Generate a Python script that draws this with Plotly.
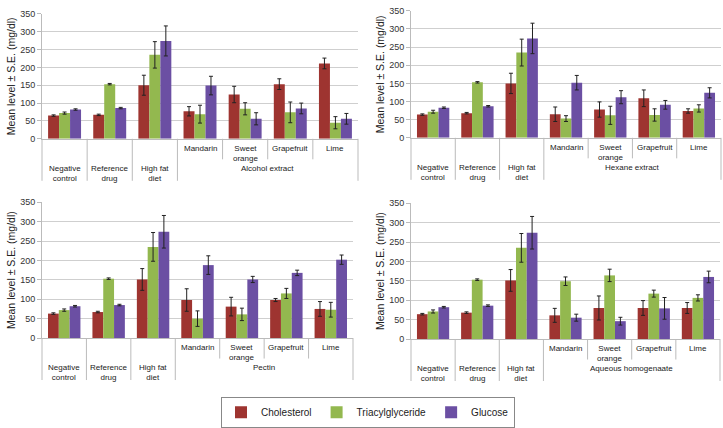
import plotly.graph_objects as go

# ---------------- data ----------------
categories = ["Negative control", "Reference drug", "High fat diet",
              "Mandarin", "Sweet orange", "Grapefruit", "Lime"]
control_labels = ["Negative<br>control", "Reference<br>drug", "High fat<br>diet"]
fruit_labels = ["Mandarin", "Sweet<br>orange", "Grapefruit", "Lime"]
group_labels = ["Alcohol extract", "Hexane extract", "Pectin", "Aqueous homogenaate"]
series_names = ["Cholesterol", "Triacylglyceride", "Glucose"]
tick_values = [0, 50, 100, 150, 200, 250, 300, 350]

# Alcohol extract
alc_chol = [65, 67, 150, 77, 124, 153, 211]
alc_chol_se = [2, 2, 28, 13, 23, 15, 15]
alc_tg = [72, 153, 235, 69, 84, 74, 45]
alc_tg_se = [3, 2, 37, 25, 17, 29, 17]
alc_glu = [82, 86, 274, 149, 56, 85, 56]
alc_glu_se = [2, 2, 42, 26, 17, 15, 15]

# Hexane extract
hex_chol = [64, 68, 150, 65, 78, 109, 74]
hex_chol_se = [2, 2, 28, 20, 21, 23, 6]
hex_tg = [72, 153, 235, 53, 62, 63, 81]
hex_tg_se = [4, 2, 37, 8, 25, 17, 10]
hex_glu = [83, 87, 274, 152, 112, 91, 124]
hex_glu_se = [2, 2, 42, 20, 18, 12, 14]

# Pectin
pec_chol = [63, 67, 151, 98, 81, 98, 75]
pec_chol_se = [2, 2, 28, 29, 24, 4, 19]
pec_tg = [72, 153, 235, 50, 61, 115, 73]
pec_tg_se = [3, 2, 37, 20, 16, 13, 19]
pec_glu = [82, 85, 274, 188, 151, 168, 202]
pec_glu_se = [2, 2, 42, 24, 8, 7, 12]

# Aqueous homogenaate
aq_chol = [64, 68, 151, 61, 80, 80, 80]
aq_chol_se = [2, 2, 28, 18, 31, 19, 14]
aq_tg = [71, 153, 235, 149, 164, 117, 106]
aq_tg_se = [4, 2, 37, 11, 16, 9, 8]
aq_glu = [82, 86, 274, 55, 46, 79, 160]
aq_glu_se = [2, 2, 42, 9, 10, 28, 15]

panels_data = [
    [(alc_chol, alc_chol_se), (alc_tg, alc_tg_se), (alc_glu, alc_glu_se)],
    [(hex_chol, hex_chol_se), (hex_tg, hex_tg_se), (hex_glu, hex_glu_se)],
    [(pec_chol, pec_chol_se), (pec_tg, pec_tg_se), (pec_glu, pec_glu_se)],
    [(aq_chol, aq_chol_se), (aq_tg, aq_tg_se), (aq_glu, aq_glu_se)],
]

# ---------------- style / layout ----------------
W, H = 723, 428
colors = ["#9E3430", "#93B84F", "#6B4FA3"]
line_col = "#BBBBBB"
font_family = "Liberation Sans, Arial, sans-serif"

# plot areas in pixels: left, top, right, bottom
rects = [(42, 9, 358, 137), (411, 6, 721, 136),
         (42, 202, 353, 341), (411, 203, 720, 342)]


def px(x):
    return x / W


def py(y):
    return 1 - y / H


fig = go.Figure()
shapes = []
annotations = []

for i, (rect, pdata) in enumerate(zip(rects, panels_data)):
    l, t, r, b = rect
    ax = "" if i == 0 else str(i + 1)
    for s, (vals, se) in enumerate(pdata):
        fig.add_trace(go.Bar(
            x=categories, y=vals, name=series_names[s],
            marker=dict(color=colors[s], line=dict(width=0)),
            error_y=dict(type="data", array=se, color="#222222",
                         thickness=1, width=2),
            xaxis="x" + ax, yaxis="y" + ax,
            legendgroup=series_names[s], showlegend=(i == 0),
        ))
    fig.layout["xaxis" + ax] = dict(
        domain=[px(l), px(r)], anchor="y" + ax, type="category",
        range=[-0.5, 6.5], showticklabels=False, showgrid=False,
        showline=True, linecolor=line_col, ticks="", zeroline=False,
        fixedrange=True,
    )
    fig.layout["yaxis" + ax] = dict(
        domain=[py(b), py(t)], anchor="x" + ax, range=[0, 350],
        tickvals=tick_values, showgrid=True, gridcolor="#CFCFCF",
        showline=True, linecolor=line_col, ticks="outside", ticklen=4,
        tickcolor=line_col, tickfont=dict(size=9, color="#333333"),
        zeroline=False,
        title=dict(text="Mean level ± S.E. (mg/dl)",
                   font=dict(size=10.5, color="#222222"), standoff=2),
    )

    # multi-level category axis
    cw = (r - l) / 7.0
    row1 = b + 21
    row2 = b + 43
    for k in range(8):
        xk = l + k * cw
        y_end = row1 if k in (4, 5, 6) else row2
        shapes.append(dict(type="line", xref="paper", yref="paper",
                           x0=px(xk), x1=px(xk), y0=py(b), y1=py(y_end),
                           line=dict(color=line_col, width=1)))
    for k, lab in enumerate(control_labels):
        annotations.append(dict(
            x=px(l + (k + 0.5) * cw), y=py(b + 24), xref="paper", yref="paper",
            text=lab, showarrow=False, xanchor="center", yanchor="top",
            font=dict(size=8, color="#222222")))
    for k, lab in enumerate(fruit_labels):
        annotations.append(dict(
            x=px(l + (k + 3.5) * cw), y=py(b + 3), xref="paper", yref="paper",
            text=lab, showarrow=False, xanchor="center", yanchor="top",
            font=dict(size=8, color="#222222")))
    annotations.append(dict(
        x=px(l + 5 * cw), y=py(b + 24), xref="paper", yref="paper",
        text=group_labels[i], showarrow=False, xanchor="center", yanchor="top",
        font=dict(size=8, color="#222222")))

fig.update_layout(
    width=W, height=H, margin=dict(l=0, r=0, t=0, b=0),
    paper_bgcolor="white", plot_bgcolor="white",
    font=dict(family=font_family, color="#222222"),
    barmode="group", bargap=0.27, bargroupgap=0,
    shapes=shapes, annotations=annotations,
    legend=dict(orientation="h", x=px(368), y=py(401), xanchor="center",
                yanchor="top", bordercolor="#888888", borderwidth=1,
                font=dict(size=10, color="#222222"), itemwidth=30,
                tracegroupgap=0, bgcolor="white"),
)

fig.write_html("out.html")
